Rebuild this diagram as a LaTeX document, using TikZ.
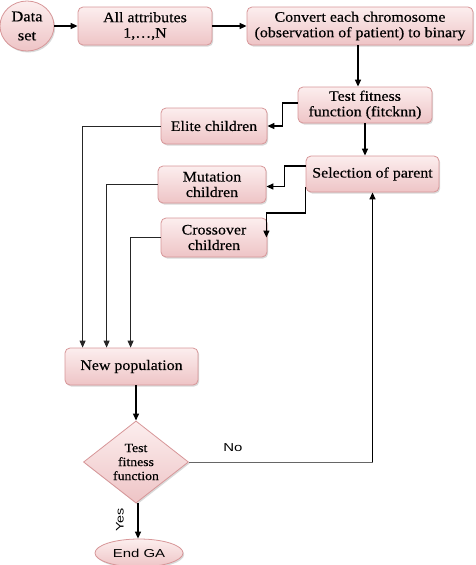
\documentclass[tikz,border=0pt]{standalone}
\usepackage{fontspec}
\setmainfont{Liberation Serif}[FakeStretch=1.1, FakeBold=0.4]
\newfontfamily\widesans[FakeStretch=1.3]{Liberation Sans}
\usetikzlibrary{shapes.geometric,arrows.meta,shadows}
\definecolor{boxtop}{RGB}{252,238,238}
\definecolor{boxbot}{RGB}{238,196,198}
\definecolor{boxline}{RGB}{215,150,152}
\tikzset{
  pinkbox/.style={rectangle, rounded corners=5pt, draw=boxline, line width=0.8pt,
    top color=boxtop, bottom color=boxbot, align=center, inner sep=1pt,
    font=\fontsize{14.5}{15.5}\selectfont,
    drop shadow={shadow xshift=1.2pt, shadow yshift=-1.5pt, opacity=0.25, fill=black!60}},
  pinkround/.style={pinkbox, rectangle, rounded corners=0pt, ellipse},
  arr/.style={-{Triangle[length=7pt,width=6pt]}, line width=1.3pt, black},
  arrthin/.style={-{Triangle[length=7pt,width=6pt]}, line width=1pt, black!85},
}
\begin{document}
\begin{tikzpicture}[x=1pt,y=-1pt]
\useasboundingbox (0,0) rectangle (475,565);
\node[pinkround, minimum width=54pt, minimum height=50pt, font=\fontsize{15}{19}\selectfont] (data) at (27,26) {Data\\set};
\node[pinkbox, minimum width=134pt, minimum height=38pt] (attr) at (145,26) {All attributes\\1,\dots,N};
\node[pinkbox, minimum width=226pt, minimum height=38pt] (conv) at (360,26) {Convert each chromosome\\(observation of patient) to binary};
\node[pinkbox, minimum width=134pt, minimum height=36pt] (test) at (365,105) {Test fitness\\function (fitcknn)};
\node[pinkbox, minimum width=106pt, minimum height=36pt] (elite) at (214,126) {Elite children};
\node[pinkbox, minimum width=133pt, minimum height=36pt] (sel) at (372.5,174) {Selection of parent};
\node[pinkbox, minimum width=108pt, minimum height=37pt] (mut) at (212,184.5) {Mutation\\children};
\node[pinkbox, minimum width=106pt, minimum height=39pt] (cross) at (214,237.5) {Crossover\\children};
\node[pinkbox, minimum width=133pt, minimum height=37pt] (newpop) at (131.5,366.5) {New population};
\node[pinkbox, diamond, rounded corners=0pt, minimum width=105pt, minimum height=81pt, inner sep=0pt,
  font=\fontsize{12.5}{14}\selectfont] (dia) at (136,462) {Test\\fitness\\function};
\node[pinkround, minimum width=88pt, minimum height=28pt, font=\widesans\fontsize{11.5}{13}\selectfont] (endga) at (139,553) {End GA};

\draw[arr] (data.east |- attr.west) -- (attr.west);
\draw[arr] (attr.east) -- (conv.west);
\draw[arr] ([xshift=-2pt]conv.south) -- ([xshift=-2pt]conv.south |- test.north);
\draw[arr] ([yshift=2pt]test.west) -- ++(-15,0) |- (elite.east);
\draw[arr] (test.south) -- (test.south |- sel.north);
\draw[arr] ([yshift=8pt]sel.west) -- ++(-21,0) |- ([yshift=-2pt]mut.east);
\draw[arr] ([yshift=-13pt]sel.west) -- ++(0,26) -| ([xshift=-1pt]cross.east);
\draw[arrthin] (elite.west) -| ([xshift=18pt]newpop.north west);
\draw[arrthin] (mut.west) -| ([xshift=42pt]newpop.north west);
\draw[arrthin] (cross.west) -| ([xshift=66pt]newpop.north west);
\draw[arr] (newpop.south -| dia.north) -- (dia.north);
\draw[line width=1pt, black!60] (dia.east) -- (dia.east -| sel.south) coordinate (nocorner);
\draw[arr] (nocorner) -- (sel.south);
\node[font=\widesans\fontsize{11.5}{13}\selectfont, anchor=base] (no) at (233,451) {No};
\draw[arr] ([xshift=2pt]dia.south) -- ([xshift=2pt]dia.south |- endga.north);
\node[font=\widesans\fontsize{11}{13}\selectfont, rotate=90] (yes) at (120,520) {Yes};
\end{tikzpicture}
\end{document}
